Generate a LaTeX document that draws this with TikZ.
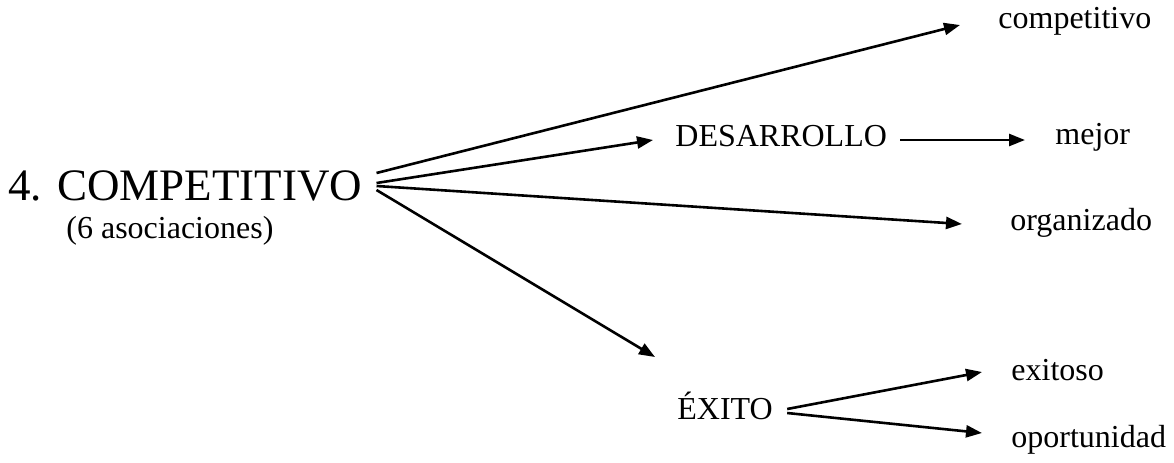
\documentclass[tikz,border=0pt]{standalone}
\usepackage{fontspec}
\setmainfont{Liberation Serif}
\usepackage{tikz}
\usetikzlibrary{arrows.meta, positioning}

\begin{document}
\begin{tikzpicture}[
  x=0.5pt, y=-0.5pt,
  word/.style={inner sep=0pt, anchor=base west, font=\fontsize{16}{19}\selectfont},
  head/.style={word, font=\fontsize{22.5}{27}\selectfont},
  arr/.style={-{Triangle[length=8pt, width=6pt]}, line width=1.3pt}
]
\useasboundingbox (0,0) rectangle (1174,462);

\node[head] (comp)  at (8,200)    {4. COMPETITIVO};
\node[word] (asoc)  at (66,238)   {(6 asociaciones)};
\node[word] (compo) at (998,28)   {competitivo};
\node[word] (desa)  at (675,146)  {DESARROLLO};
\node[word] (mejor) at (1055,144) {mejor};
\node[word] (orga)  at (1010,230) {organizado};
\node[word] (exito) at (677,419)  {ÉXITO};
\node[word] (exit)  at (1011,380) {exitoso};
\node[word] (opor)  at (1011,447) {oportunidad};

% fan from the main word
\draw[arr] ([shift={(14,-27)}]comp.base east) -- ([shift={(-38,-3)}]compo.base west);
\draw[arr] ([shift={(14,-17)}]comp.base east) -- ([shift={(-22,-6)}]desa.base west);
\draw[arr] ([shift={(14,-14)}]comp.base east) -- ([shift={(-48,-6)}]orga.base west);
\draw[arr] ([shift={(14,-10)}]comp.base east) -- ([shift={(-22,-62)}]exito.base west);

\draw[arr] ([shift={(13,-6)}]desa.base east) -- ([shift={(-30,-4)}]mejor.base west);

\draw[arr] ([shift={(14,-10)}]exito.base east) -- ([shift={(-29,-8)}]exit.base west);
\draw[arr] ([shift={(14,-6)}]exito.base east) -- ([shift={(-29,-14)}]opor.base west);
\end{tikzpicture}
\end{document}
